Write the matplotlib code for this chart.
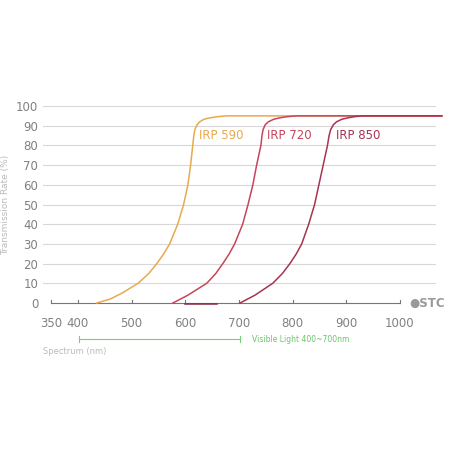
import numpy as np
import matplotlib.pyplot as plt

# wavelength (nm) vs transmission (%)
irp590_x = [435, 460, 482, 512, 532, 547, 560, 571, 586, 597, 605, 610, 614, 616, 618, 622, 627, 635, 646, 660, 677, 1078]
irp590_y = [0, 2, 5, 10, 15, 20, 25, 30, 40, 50, 60, 70, 80, 85, 88, 90.5, 92, 93.3, 94, 94.6, 95, 95]
irp720_x = [577, 605, 640, 657, 670, 682, 692, 707, 717, 726, 733, 741, 743, 745, 749, 755, 765, 776, 790, 807, 1078]
irp720_y = [0, 4, 10, 15, 20, 25, 30, 40, 50, 60, 70, 80, 85, 88, 90.5, 92, 93.3, 94, 94.6, 95, 95]
irp850_x = [702, 730, 763, 781, 795, 807, 817, 830, 841, 849, 857, 865, 868, 871, 876, 882, 892, 903, 916, 931, 1078]
irp850_y = [0, 4, 10, 15, 20, 25, 30, 40, 50, 60, 70, 80, 85, 88, 90.5, 92, 93.3, 94, 94.6, 95, 95]
x_ticks = [350, 400, 500, 600, 700, 800, 900, 1000]
y_ticks = list(range(0, 101, 10))

fig = plt.figure(figsize=(4.55, 4.55), dpi=100)
ax = fig.add_axes([0.0945, 0.334, 0.8635, 0.433])
ax.set_xlim(335, 1067)
ax.set_ylim(0, 100)
for s in ax.spines.values():
    s.set_visible(False)

for y in y_ticks[1:]:
    ax.axhline(y, color='#d8d8d8', lw=0.8, zorder=0)
ax.plot([350, 1000], [0, 0], color='#777777', lw=0.8, clip_on=False)
for x in x_ticks:
    ax.plot([x, x], [0, 1.5], color='#777777', lw=0.8, clip_on=False)

ax.plot(irp590_x, irp590_y, color='#e8a94f', lw=1.1, clip_on=False)
ax.plot(irp720_x, irp720_y, color='#c8445a', lw=1.1, clip_on=False)
ax.plot(irp850_x, irp850_y, color='#a8344f', lw=1.1, clip_on=False)
ax.plot([600, 660], [-0.3, -0.3], color='#8a2a40', lw=1.1, clip_on=False)

ax.text(625, 85, 'IRP 590', color='#e8a94f', fontsize=8.5, va='center')
ax.text(753, 85, 'IRP 720', color='#c8445a', fontsize=8.5, va='center')
ax.text(880, 85, 'IRP 850', color='#a8344f', fontsize=8.5, va='center')

ax.set_xticks(x_ticks)
ax.set_yticks(y_ticks)
ax.tick_params(length=0, labelcolor='#808080', labelsize=8.5)
ax.tick_params(axis='x', pad=10)
ax.set_ylabel('Transmission Rate (%)', color='#bbbbbb', fontsize=6.5, labelpad=4)

fig.text(0.0945, 0.222, 'Spectrum (nm)', color='#bbbbbb', fontsize=6)
fig.add_artist(plt.Line2D([79/455, 240/455], [1-339/455]*2, color='#7acb7a', lw=0.8))
fig.add_artist(plt.Line2D([79/455]*2, [1-336/455, 1-342/455], color='#7acb7a', lw=0.8))
fig.add_artist(plt.Line2D([240/455]*2, [1-336/455, 1-342/455], color='#7acb7a', lw=0.8))
fig.text(252/455, 1-339/455, 'Visible Light 400~700nm', color='#6ac46a', fontsize=5.5, va='center')
fig.text(409/455, 1-303/455, '\u25cfSTC', color='#999999', fontsize=8.5, fontweight='bold', va='center')

fig.savefig('out.png', facecolor='white')
